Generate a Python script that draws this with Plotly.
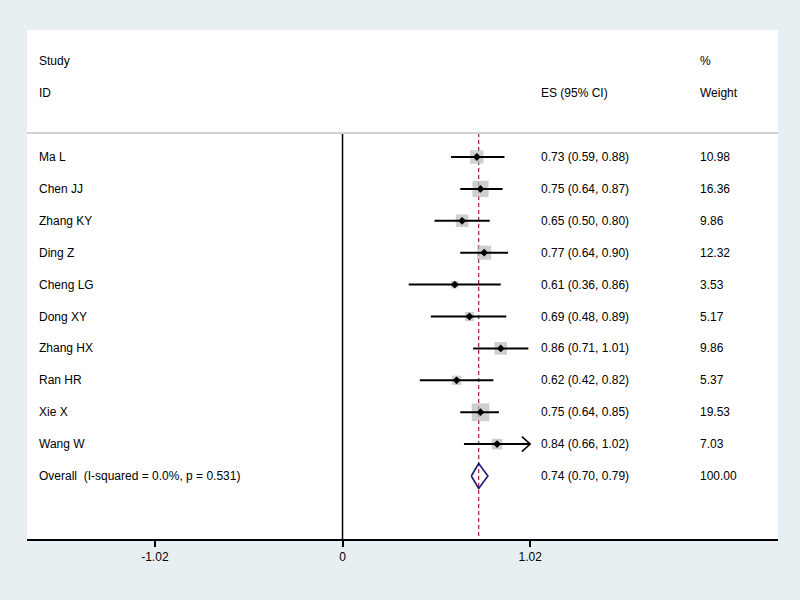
import plotly.graph_objects as go
import math

studies = ["Ma L", "Chen JJ", "Zhang KY", "Ding Z", "Cheng LG", "Dong XY",
           "Zhang HX", "Ran HR", "Xie X", "Wang W"]
es = [0.73, 0.75, 0.65, 0.77, 0.61, 0.69, 0.86, 0.62, 0.75, 0.84]
lo = [0.59, 0.64, 0.50, 0.64, 0.36, 0.48, 0.71, 0.42, 0.64, 0.66]
hi = [0.88, 0.87, 0.80, 0.90, 0.86, 0.89, 1.01, 0.82, 0.85, 1.02]
weights = [10.98, 16.36, 9.86, 12.32, 3.53, 5.17, 9.86, 5.37, 19.53, 7.03]
arrow_right = [False] * 9 + [True]

overall_label = "Overall  (I-squared = 0.0%, p = 0.531)"
overall_es, overall_lo, overall_hi, overall_w = 0.74, 0.70, 0.79, 100.00

tick_vals = [-1.02, 0, 1.02]
tick_text = ["-1.02", "0", "1.02"]

FONT = "Liberation Sans, Arial, sans-serif"
TXT = "#000000"
rows = list(range(1, len(studies) + 1))
overall_row = len(studies) + 1
header_line = 0.25
y_bottom = 12.975

fig = go.Figure()

# reference lines
fig.add_shape(type="line", x0=0, x1=0, y0=header_line, y1=y_bottom,
              line=dict(color="black", width=1.5), layer="below")
fig.add_shape(type="line", x0=overall_es, x1=overall_es, y0=header_line, y1=y_bottom,
              line=dict(color="#a8323e", width=1.3, dash="4px,3px"), layer="below")
fig.add_shape(type="line", xref="paper", x0=0, x1=1, y0=header_line, y1=header_line,
              line=dict(color="#d2d2d2", width=2))

# weight squares
fig.add_trace(go.Scatter(
    x=es, y=rows, mode="markers",
    marker=dict(symbol="square", size=[4.0 * math.sqrt(w) for w in weights],
                color="#b9b9b9", line=dict(width=0)),
    hoverinfo="skip", showlegend=False))

# CI lines
cx, cy = [], []
for l, h, r in zip(lo, hi, rows):
    cx += [l, h, None]
    cy += [r, r, None]
fig.add_trace(go.Scatter(x=cx, y=cy, mode="lines",
                         line=dict(color="black", width=2),
                         hoverinfo="skip", showlegend=False))

# arrow heads for truncated CIs
ax, ay = [], []
for h, r, a in zip(hi, rows, arrow_right):
    if a:
        ax += [h - 0.045, h, h - 0.045, None]
        ay += [r - 0.235, r, r + 0.235, None]
fig.add_trace(go.Scatter(x=ax, y=ay, mode="lines",
                         line=dict(color="black", width=1.5),
                         hoverinfo="skip", showlegend=False))

# point estimates
fig.add_trace(go.Scatter(x=es, y=rows, mode="markers",
                         marker=dict(symbol="diamond", size=6, color="black"),
                         hoverinfo="skip", showlegend=False))

# overall diamond
dh = 0.39
fig.add_trace(go.Scatter(
    x=[overall_lo, overall_es, overall_hi, overall_es, overall_lo],
    y=[overall_row, overall_row - dh, overall_row, overall_row + dh, overall_row],
    mode="lines", line=dict(color="#1c1c78", width=1.6),
    hoverinfo="skip", showlegend=False))

# text columns
def txt(xp, y, s):
    fig.add_annotation(x=xp, xref="paper", y=y, yref="y", text=s, showarrow=False,
                       xanchor="left", yanchor="middle",
                       font=dict(family=FONT, size=12, color=TXT))

txt(0.0133, -2, "Study")
txt(0.0133, -1, "ID")
txt(0.682, -1, "ES (95% CI)")
txt(0.893, -2, "%")
txt(0.893, -1, "Weight")

for s, e, l, h, w, r in zip(studies, es, lo, hi, weights, rows):
    txt(0.0133, r, s)
    txt(0.682, r, f"{e:.2f} ({l:.2f}, {h:.2f})")
    txt(0.893, r, f"{w:.2f}")

txt(0.0133, overall_row, overall_label)
txt(0.682, overall_row, f"{overall_es:.2f} ({overall_lo:.2f}, {overall_hi:.2f})")
txt(0.893, overall_row, f"{overall_w:.2f}")

fig.update_layout(
    width=800, height=600,
    margin=dict(l=27, r=22, t=30, b=61),
    paper_bgcolor="#e8eff2", plot_bgcolor="white",
    font=dict(family=FONT, size=12, color=TXT),
    xaxis=dict(range=[-1.715, 2.367], tickvals=tick_vals, ticktext=tick_text,
               showgrid=False, zeroline=False, showline=True, linecolor="black",
               linewidth=1.5, ticks="outside", ticklen=6, tickwidth=1.5,
               tickcolor="black", tickfont=dict(family=FONT, size=12, color=TXT)),
    yaxis=dict(range=[y_bottom, -2.981], showgrid=False, zeroline=False,
               showticklabels=False, showline=False),
)

fig.write_html("out.html", config={"displayModeBar": False},
               post_script="document.body.style.margin='0';document.body.style.overflow='hidden';")
